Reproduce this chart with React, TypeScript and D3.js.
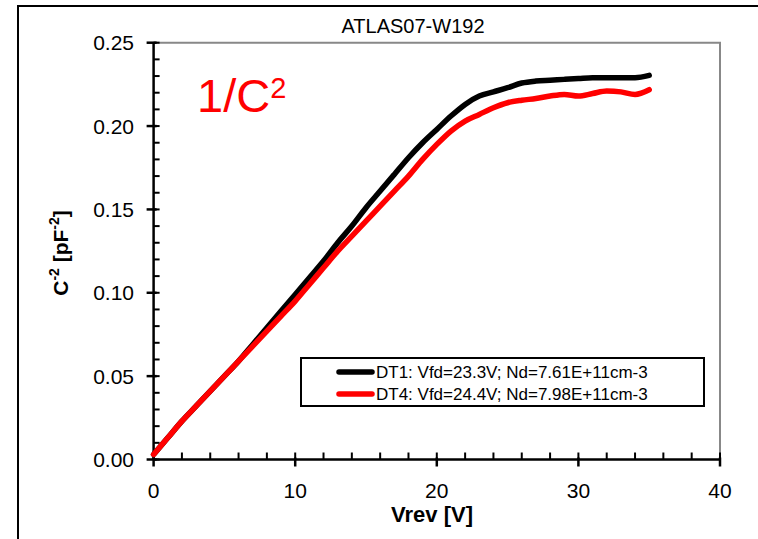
import React from "react";
import * as d3 from "d3";

const voltages = [0,1,2,3,4,5,6,7,8,9,10,11,12,13,14,15,16,17,18,19,20,21,22,23,24,25,26,27,28,29,30,31,32,33,34,35];
const dt1Values = [0.003,0.013,0.023,0.032,0.041,0.050,0.059,0.069,0.079,0.089,0.099,0.109,0.119,0.130,0.140,0.151,0.161,0.171,0.181,0.190,0.198,0.206,0.213,0.218,0.2205,0.223,0.2258,0.227,0.2275,0.228,0.2285,0.229,0.229,0.229,0.229,0.2304];
const dt4Values = [0.003,0.013,0.023,0.032,0.041,0.050,0.059,0.068,0.077,0.086,0.095,0.105,0.115,0.125,0.134,0.143,0.152,0.161,0.170,0.180,0.189,0.197,0.203,0.207,0.211,0.214,0.2155,0.2165,0.218,0.219,0.218,0.2195,0.221,0.2205,0.219,0.2218];
const seriesNames = ["DT1: Vfd=23.3V; Nd=7.61E+11cm-3", "DT4: Vfd=24.4V; Nd=7.98E+11cm-3"];
const seriesColors = ["#000000", "#ff0000"];
const xTicks = [0, 10, 20, 30, 40];
const xMinorTicks = d3.range(0, 41, 2);
const yTicks = [0, 0.05, 0.1, 0.15, 0.2, 0.25];
const yMinorTicks = d3.range(0, 0.2501, 0.01);

const FONT = "'Liberation Sans', Arial, sans-serif";

export default function App() {
  const x = d3.scaleLinear().domain([0, 40]).range([153.6, 720]);
  const y = d3.scaleLinear().domain([0, 0.25]).range([459.5, 42.7]);
  const series = [dt1Values, dt4Values];
  const line = d3
    .line<number>()
    .x((_, i) => x(voltages[i]))
    .y((d) => y(d))
    .curve(d3.curveMonotoneX);

  return (
    <svg width={758} height={539} style={{ position: "absolute", left: 0, top: 0, background: "#fff" }}>
      <rect x={0} y={0} width={758} height={539} fill="#fff" />
      {/* cut-off red header fragments */}
      <text x={152} y={-9} fontFamily={FONT} fontSize={24} fill="#ff0000">[</text>
      <text x={426} y={-9} fontFamily={FONT} fontSize={24} fill="#ff0000">]</text>
      {/* outer frame */}
      <path d="M18,545 L18,6 L765,6" fill="none" stroke="#000" strokeWidth={2} />
      {/* title */}
      <text x={413} y={33} textAnchor="middle" fontFamily={FONT} fontSize={20} fill="#000">ATLAS07-W192</text>
      {/* plot border (gray) */}
      <path d={`M${x(0)},${y(0.25)} L${x(40)},${y(0.25)} L${x(40)},${y(0)}`} fill="none" stroke="#888" strokeWidth={2} />
      {/* minor ticks */}
      {xMinorTicks.map((t) => (
        <line key={"xm" + t} x1={x(t)} x2={x(t)} y1={y(0)} y2={y(0) - 7} stroke="#000" strokeWidth={2} />
      ))}
      {yMinorTicks.map((t, i) => (
        <line key={"ym" + i} x1={x(0)} x2={x(0) + 6} y1={y(t)} y2={y(t)} stroke="#000" strokeWidth={2} />
      ))}
      {/* major ticks */}
      {xTicks.map((t) => (
        <line key={"xM" + t} x1={x(t)} x2={x(t)} y1={y(0) - 2} y2={y(0) + 7} stroke="#000" strokeWidth={2.5} />
      ))}
      {yTicks.map((t) => (
        <line key={"yM" + t} x1={x(0) - 7} x2={x(0) + 3} y1={y(t)} y2={y(t)} stroke="#000" strokeWidth={2.5} />
      ))}
      {/* axes */}
      <line x1={x(0)} x2={x(40)} y1={y(0)} y2={y(0)} stroke="#000" strokeWidth={2.5} />
      <line x1={x(0)} x2={x(0)} y1={y(0)} y2={y(0.25)} stroke="#000" strokeWidth={2.5} />
      {/* tick labels */}
      {xTicks.map((t) => (
        <text key={"xl" + t} x={x(t)} y={498} textAnchor="middle" fontFamily={FONT} fontSize={21} fill="#000">{t}</text>
      ))}
      {yTicks.map((t) => (
        <text key={"yl" + t} x={134} y={y(t) + 7.5} textAnchor="end" fontFamily={FONT} fontSize={21} fill="#000">{t.toFixed(2)}</text>
      ))}
      {/* axis titles */}
      <text x={432} y={522} textAnchor="middle" fontFamily={FONT} fontSize={22} fontWeight="bold" fill="#000">Vrev [V]</text>
      <text transform="translate(68,253) rotate(-90)" textAnchor="middle" fontFamily={FONT} fontSize={21} fontWeight="bold" fill="#000">
        C<tspan fontSize={14} dy={-9}>-2</tspan><tspan dy={9}> [pF</tspan><tspan fontSize={14} dy={-9}>-2</tspan><tspan dy={9}>]</tspan>
      </text>
      {/* 1/C^2 label */}
      <text x={197} y={112} fontFamily={FONT} fontSize={47} fill="#ff0000">
        1/C<tspan fontSize={29} dy={-14}>2</tspan>
      </text>
      {/* curves */}
      {series.map((s, i) => (
        <path key={"s" + i} d={line(s) || ""} fill="none" stroke={seriesColors[i]} strokeWidth={5.5} strokeLinejoin="round" strokeLinecap="round" />
      ))}
      {/* legend */}
      <rect x={301} y={358} width={403} height={48} fill="#fff" stroke="#000" strokeWidth={2} />
      {seriesNames.map((n, i) => (
        <g key={"lg" + i}>
          <line x1={339} x2={372} y1={372 + i * 22} y2={372 + i * 22} stroke={seriesColors[i]} strokeWidth={5.5} strokeLinecap="round" />
          <text x={376} y={378 + i * 22} fontFamily={FONT} fontSize={17} fill="#000">{n}</text>
        </g>
      ))}
    </svg>
  );
}
